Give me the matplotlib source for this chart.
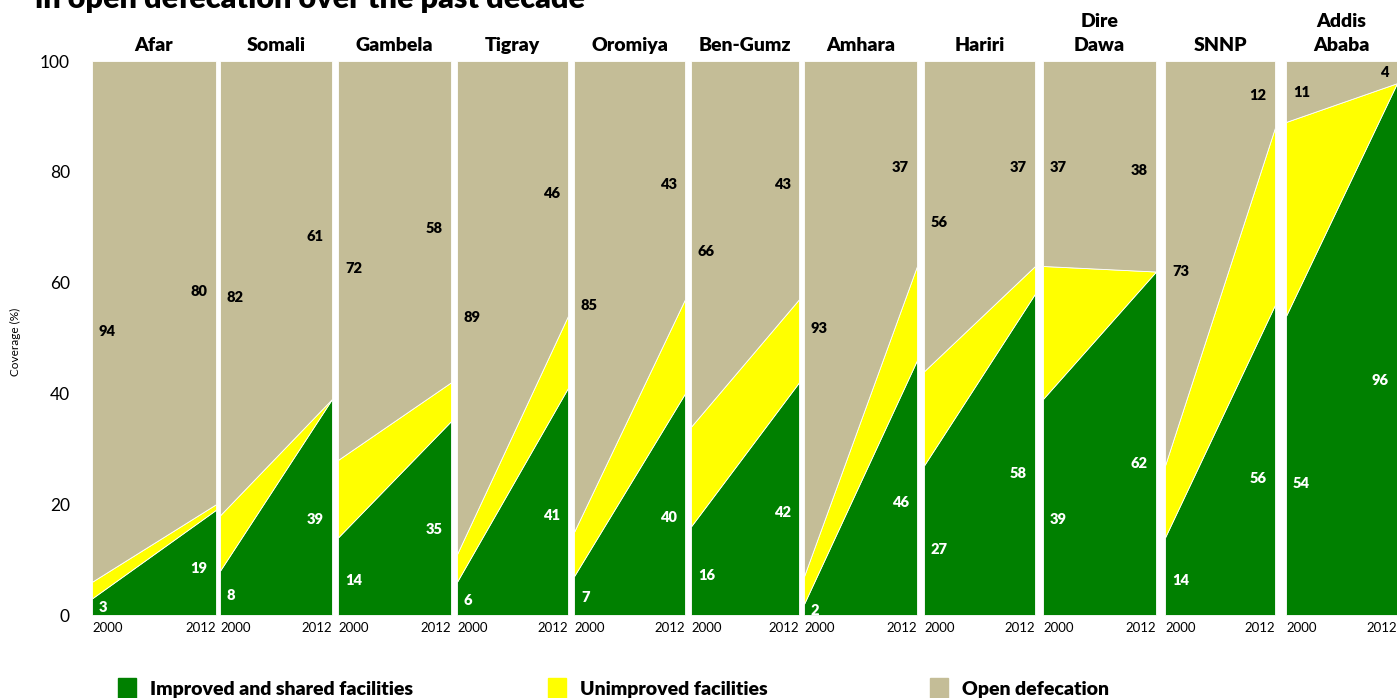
"""Sanitation coverage by region, 2000 vs 2012 (Ethiopia)."""

import matplotlib

matplotlib.use("Agg")
import matplotlib.pyplot as plt
from matplotlib.patches import Rectangle

plt.rcParams["font.family"] = ["Lato", "DejaVu Sans"]

years = [2000, 2012]
regions = ["Afar", "Somali", "Gambela", "Tigray", "Oromiya", "Ben-Gumz",
           "Amhara", "Hariri", "Dire\nDawa", "SNNP", "Addis\nAbaba"]
improved_2000 = [3, 8, 14, 6, 7, 16, 2, 27, 39, 14, 54]
improved_2012 = [19, 39, 35, 41, 40, 42, 46, 58, 62, 56, 96]
open_2000 = [94, 82, 72, 89, 85, 66, 93, 56, 37, 73, 11]
open_2012 = [80, 61, 58, 46, 43, 43, 37, 37, 38, 12, 4]

series_names = ["Improved and shared facilities", "Unimproved facilities",
                "Open defecation"]
colors = ["#008000", "#FFFF00", "#C4BD97"]

W, H = 1397, 698
fig = plt.figure(figsize=(W / 100, H / 100), dpi=100)

# panel edges in pixels (left, right)
lefts = [92, 220, 338, 457, 574, 691, 804, 924, 1043, 1165, 1286]
rights = [216, 332, 451, 568, 685, 799, 917, 1035, 1156, 1275, 1397]
top_px, bot_px = 61, 615

for i, name in enumerate(regions):
    l, r = lefts[i], rights[i]
    ax = fig.add_axes([l / W, 1 - bot_px / H, (r - l) / W, (bot_px - top_px) / H])
    g = [improved_2000[i], improved_2012[i]]
    od = [open_2000[i], open_2012[i]]
    y = [100 - a - b for a, b in zip(g, od)]
    ax.stackplot(years, g, y, od, colors=colors, edgecolor="white",
                 linewidth=0.6)
    ax.set_xlim(2000, 2012)
    ax.set_ylim(0, 100)
    for s in ax.spines.values():
        s.set_visible(False)
    ax.set_xticks(years)
    ax.set_xticklabels([str(v) for v in years], fontsize=9.5)
    xl = ax.get_xticklabels()
    xl[0].set_horizontalalignment("left")
    xl[1].set_horizontalalignment("right")
    ax.tick_params(axis="x", length=0, pad=5)
    if i == 0:
        ax.set_yticks(range(0, 101, 20))
        ax.tick_params(axis="y", length=0, pad=16, labelsize=12.5)
    else:
        ax.set_yticks([])
    ax.set_title(name, fontsize=14, fontweight="heavy", pad=7,
                 linespacing=1.5)

    # value labels
    for j, (xv, off, ha) in enumerate([(2000, 5, "left"), (2012, -6, "right")]):
        ax.annotate(str(g[j]), (xv, g[j] * 0.44), xytext=(off, 0),
                    textcoords="offset points", ha=ha, va="center",
                    color="white", fontsize=10.5, fontweight="heavy")
        ax.annotate(str(od[j]), (xv, 100 - od[j] * 0.52), xytext=(off, 0),
                    textcoords="offset points", ha=ha, va="center",
                    color="black", fontsize=10.5, fontweight="heavy")

fig.text(15 / W, 1 - 342 / H, "Coverage (%)", rotation=90, ha="center",
         va="center", fontsize=8.5)

fig.text(35 / W, 1 - 8 / H, "in open defecation over the past decade",
         ha="left", va="baseline", fontsize=22, fontweight="heavy")

# legend along the bottom
leg_x = [118, 548, 930]
for x0, name, c in zip(leg_x, series_names, colors):
    fig.patches.append(Rectangle((x0 / W, 0), 18 / W, 20 / H, color=c,
                                 transform=fig.transFigure, figure=fig))
    fig.text((x0 + 32) / W, 1 - 689 / H, name, ha="left", va="center",
             fontsize=14, fontweight="heavy")

fig.savefig("out.png", dpi=100)
